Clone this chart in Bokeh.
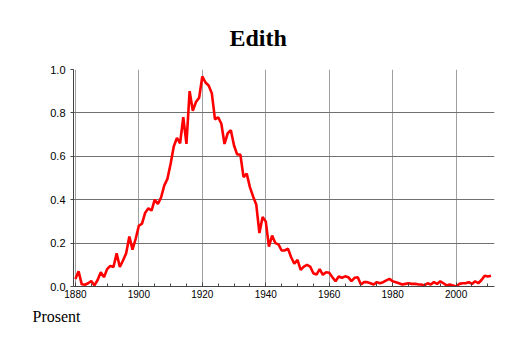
from bokeh.plotting import figure
from bokeh.models import Range1d, FixedTicker, PrintfTickFormatter, Title
from bokeh.embed import file_html
from bokeh.resources import INLINE

title_text = "Edith"
ylabel_text = "Prosent"

years = list(range(1880, 2012))
values = [
    0.035, 0.07, 0.01, 0.008, 0.015, 0.025, 0.005, 0.03, 0.066, 0.043,
    0.08, 0.095, 0.09, 0.153, 0.09, 0.12, 0.153, 0.23, 0.17, 0.22,
    0.28, 0.29, 0.34, 0.36, 0.35, 0.40, 0.38, 0.41, 0.465, 0.496,
    0.565, 0.645, 0.685, 0.66, 0.78, 0.657, 0.90, 0.81, 0.85, 0.87,
    0.968, 0.94, 0.926, 0.89, 0.77, 0.78, 0.75, 0.657, 0.706, 0.72,
    0.65, 0.608, 0.608, 0.504, 0.52, 0.458, 0.415, 0.378, 0.246, 0.32,
    0.30, 0.184, 0.235, 0.20, 0.194, 0.166, 0.166, 0.174, 0.135, 0.105,
    0.123, 0.077, 0.092, 0.10, 0.092, 0.061, 0.055, 0.08, 0.054, 0.066,
    0.063, 0.043, 0.024, 0.046, 0.04, 0.047, 0.043, 0.025, 0.04, 0.043,
    0.009, 0.02, 0.02, 0.015, 0.009, 0.02, 0.015, 0.02, 0.028, 0.035,
    0.024, 0.02, 0.015, 0.009, 0.012, 0.015, 0.012, 0.012, 0.01, 0.009,
    0.005, 0.015, 0.009, 0.02, 0.012, 0.024, 0.015, 0.005, 0.009, 0.005,
    0.0, 0.012, 0.015, 0.015, 0.02, 0.012, 0.024, 0.015, 0.03, 0.05,
    0.046, 0.05,
]

x_major = [1880, 1900, 1920, 1940, 1960, 1980, 2000]
x_minor = list(range(1880, 2015, 5))
y_ticks = [0.0, 0.2, 0.4, 0.6, 0.8, 1.0]

p = figure(width=514, height=343, output_backend="svg", toolbar_location=None,
           x_range=Range1d(1879.4, 2012.1), y_range=Range1d(0, 1),
           min_border_left=73, min_border_right=20, min_border_top=69,
           min_border_bottom=57)
p.outline_line_color = None
p.background_fill_color = "white"
p.border_fill_color = "white"

p.line(years, values, line_color="#ff0000", line_width=2.6)

p.xaxis.ticker = FixedTicker(ticks=x_major, minor_ticks=x_minor)
p.yaxis.ticker = FixedTicker(ticks=y_ticks)
p.yaxis.formatter = PrintfTickFormatter(format="%.1f")

for ax in (p.xaxis, p.yaxis):
    ax.axis_line_color = "#444444"
    ax.major_tick_line_color = "#444444"
    ax.minor_tick_line_color = "#444444"
    ax.major_label_text_font = "Liberation Sans"
    ax.major_label_text_color = "black"

p.xaxis.major_tick_in = 4
p.xaxis.major_tick_out = 0
p.xaxis.minor_tick_in = 3
p.xaxis.minor_tick_out = 0
p.xaxis.major_label_text_font_size = "10px"
p.xaxis.major_label_standoff = 3

p.yaxis.major_tick_in = 0
p.yaxis.major_tick_out = 3
p.yaxis.minor_tick_line_color = None
p.yaxis.major_label_text_font_size = "11px"
p.yaxis.major_label_standoff = 5

p.xgrid.grid_line_color = "#a0a0a0"
p.xgrid.grid_line_width = 1
p.ygrid.grid_line_color = "#707070"
p.ygrid.grid_line_width = 1

p.title.text = title_text
p.title.align = "left"
p.title.offset = 156
p.title.standoff = 38
p.title.text_font = "Liberation Serif"
p.title.text_font_style = "bold"
p.title.text_font_size = "24px"
p.title.text_color = "black"

p.add_layout(Title(text=ylabel_text, align="left", offset=-41,
                   text_font="Liberation Serif", text_font_style="normal",
                   text_font_size="16px", text_color="black"), "below")

open("out.html", "w").write(file_html(p, INLINE))
